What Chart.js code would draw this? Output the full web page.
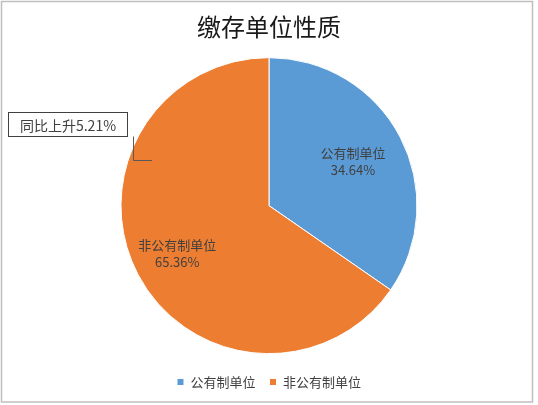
<!DOCTYPE html>
<html>
<head>
<meta charset="utf-8">
<script src="https://cdn.jsdelivr.net/npm/chart.js@4/dist/chart.umd.min.js"></script>
<style>
  html, body { margin: 0; padding: 0; background: #fff; }
  #wrap { width: 538px; height: 405px; position: relative; }
</style>
</head>
<body>
<div id="wrap"><canvas id="pieChart" width="538" height="405"></canvas></div>
<script>
// data
const categories = ['公有制单位', '非公有制单位'];
const shares = [34.64, 65.36];
const sliceColors = ['#5B9BD5', '#ED7D31'];
const titleText = '缴存单位性质';
const noteText = '同比上升5.21%';

const fontFamily = '"Noto Sans CJK SC", "Noto Sans", sans-serif';
const labelRadius = [0.64, 0.70]; // posisi label dalam slice

// border luar + label di dalam slice
const decorPlugin = {
  id: 'decor',
  beforeDraw(chart) {
    const ctx = chart.ctx;
    ctx.save();
    ctx.fillStyle = '#fff';
    ctx.fillRect(0, 0, chart.width, chart.height);
    ctx.restore();
  },
  afterDraw(chart) {
    const ctx = chart.ctx;
    const arcs = chart.getDatasetMeta(0).data;
    ctx.save();
    ctx.font = '13px ' + fontFamily;
    ctx.fillStyle = '#404040';
    ctx.textAlign = 'center';
    ctx.textBaseline = 'middle';
    arcs.forEach((arc, i) => {
      const p = arc.getProps(['x', 'y', 'startAngle', 'endAngle', 'outerRadius'], true);
      const mid = (p.startAngle + p.endAngle) / 2;
      const r = p.outerRadius * labelRadius[i];
      const cx = p.x + Math.cos(mid) * r;
      const cy = p.y + Math.sin(mid) * r;
      ctx.fillText(categories[i], cx, cy - 8.5);
      ctx.fillText(shares[i].toFixed(2) + '%', cx, cy + 8.5);
    });

    // callout ke slice non-publik
    const o = arcs[1].getProps(['x', 'y', 'outerRadius'], true);
    const ang = Math.atan2(-46, -117);
    const ax = o.x + Math.cos(ang) * o.outerRadius * 0.85;
    const ay = o.y + Math.sin(ang) * o.outerRadius * 0.85;
    const bx = 8.5, by = 112.5, bw = 119, bh = 24;
    ctx.strokeStyle = '#595959';
    ctx.lineWidth = 1;
    ctx.beginPath();
    ctx.moveTo(133.5, by + bh);
    ctx.lineTo(133.5, Math.round(ay) + 0.5);
    ctx.lineTo(ax, Math.round(ay) + 0.5);
    ctx.stroke();
    ctx.fillStyle = '#fff';
    ctx.fillRect(bx, by, bw, bh);
    ctx.strokeStyle = '#404040';
    ctx.strokeRect(bx, by, bw, bh);
    ctx.font = '14px ' + fontFamily;
    ctx.fillStyle = '#404040';
    ctx.fillText(noteText, bx + bw / 2, by + bh / 2 + 1);

    ctx.strokeStyle = '#BFBFBF';
    ctx.lineWidth = 1.5;
    ctx.strokeRect(1.5, 1.5, 531, 400.5);
    ctx.restore();
  }
};

let chart = new Chart(document.getElementById('pieChart'), {
  type: 'pie',
  data: {
    labels: categories,
    datasets: [{
      data: shares,
      backgroundColor: sliceColors,
      borderColor: '#fff',
      borderWidth: 1,
      radius: 148
    }]
  },
  options: {
    responsive: false,
    animation: false,
    events: [],
    layout: { padding: { top: 0, bottom: 6.5, left: 0, right: 0 } },
    plugins: {
      tooltip: { enabled: false },
      title: {
        display: true,
        text: titleText,
        color: '#1a1a1a',
        font: { family: fontFamily, size: 24, weight: 'normal' },
        padding: { top: 12, bottom: 9 }
      },
      legend: {
        position: 'bottom',
        labels: {
          color: '#404040',
          font: { family: fontFamily, size: 13 },
          boxWidth: 7,
          boxHeight: 7,
          padding: 14
        }
      }
    }
  },
  plugins: [decorPlugin]
});
</script>
</body>
</html>
